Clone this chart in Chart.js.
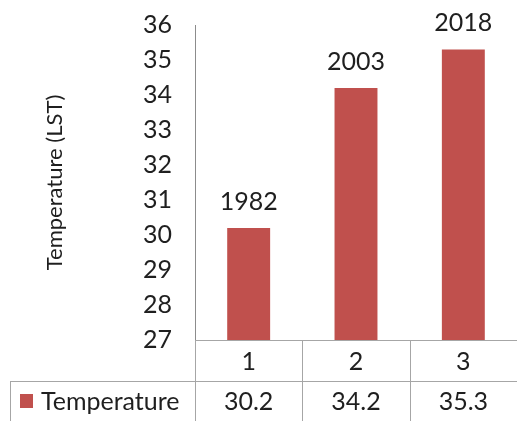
<!DOCTYPE html>
<html>
<head>
<meta charset="utf-8">
<script src="https://cdn.jsdelivr.net/npm/chart.js"></script>
<style>
  html, body { margin: 0; padding: 0; background: #fff; }
  #wrap { width: 517px; height: 421px; }
</style>
</head>
<body>
<div id="wrap"><canvas id="tempChart" width="517" height="421"></canvas></div>
<script>
// dados do gráfico
const categorias = ['1', '2', '3'];
const temperaturas = [30.2, 34.2, 35.3];
const anos = ['1982', '2003', '2018'];
const nomeSerie = 'Temperature';
const yMin = 27;
const yMax = 36;

const corBarra = '#C0504D';
const corLinha = '#a6a6a6';
const corTexto = '#1f1f1f';
const fonte = 'Lato, "Open Sans", sans-serif';

// desenha os anos acima das barras e a tabela de dados embaixo
const tabelaPlugin = {
    id: 'tabelaDados',
    afterDraw(chart) {
        const ctx = chart.ctx;
        const area = chart.chartArea;
        const meta = chart.getDatasetMeta(0);
        const n = categorias.length;
        const larg = (area.right - area.left) / n;

        ctx.save();
        ctx.font = '25px ' + fonte;
        ctx.fillStyle = corTexto;
        ctx.textAlign = 'center';

        // anos sobre as barras
        ctx.textBaseline = 'bottom';
        meta.data.forEach((bar, i) => {
            ctx.fillText(anos[i], bar.x, bar.y - 14);
        });

        // linhas da tabela
        const topo = area.bottom;
        const linha2 = topo + 41;
        const fundo = chart.height + 2;
        const esq = 10;

        ctx.strokeStyle = corLinha;
        ctx.lineWidth = 1;
        ctx.beginPath();
        ctx.moveTo(area.left, topo + 0.5);
        ctx.lineTo(area.right, topo + 0.5);
        ctx.moveTo(esq, linha2 + 0.5);
        ctx.lineTo(area.right, linha2 + 0.5);
        ctx.moveTo(esq + 0.5, linha2);
        ctx.lineTo(esq + 0.5, fundo);
        for (let i = 0; i < n; i++) {
            const x = Math.round(area.left + i * larg) + 0.5;
            ctx.moveTo(x, topo);
            ctx.lineTo(x, fundo);
        }
        ctx.stroke();

        // textos da tabela
        ctx.textBaseline = 'middle';
        for (let i = 0; i < n; i++) {
            const cx = area.left + (i + 0.5) * larg;
            ctx.fillText(categorias[i], cx, (topo + linha2) / 2 + 1);
            ctx.fillText(temperaturas[i].toFixed(1), cx, linha2 + 21);
        }

        // legenda da série
        ctx.fillStyle = corBarra;
        ctx.fillRect(20, linha2 + 13, 13, 14);
        ctx.fillStyle = corTexto;
        ctx.textAlign = 'left';
        ctx.fillText(nomeSerie, 41, linha2 + 21);
        ctx.restore();
    }
};

const ctx = document.getElementById('tempChart').getContext('2d');
new Chart(ctx, {
    type: 'bar',
    data: {
        labels: categorias,
        datasets: [{
            label: nomeSerie,
            data: temperaturas,
            backgroundColor: corBarra,
            categoryPercentage: 1,
            barPercentage: 0.4
        }]
    },
    options: {
        responsive: false,
        animation: false,
        layout: {
            padding: { left: 30, top: 25, right: 0, bottom: 81 }
        },
        scales: {
            x: { display: false },
            y: {
                min: yMin,
                max: yMax,
                afterFit: (scale) => {
                    scale.width = 165;
                    scale.paddingTop = 0;
                    scale.paddingBottom = 0;
                },
                grid: { display: false, drawTicks: false },
                border: { display: true, color: '#8c8c8c', width: 1 },
                ticks: {
                    stepSize: 1,
                    padding: 23,
                    color: corTexto,
                    font: { family: fonte, size: 25 }
                },
                title: {
                    display: true,
                    text: 'Temperature (LST)',
                    color: corTexto,
                    font: { family: fonte, size: 22 },
                    padding: { top: 12, bottom: 0 }
                }
            }
        },
        plugins: {
            legend: { display: false },
            tooltip: { enabled: false }
        }
    },
    plugins: [tabelaPlugin]
});
</script>
</body>
</html>
